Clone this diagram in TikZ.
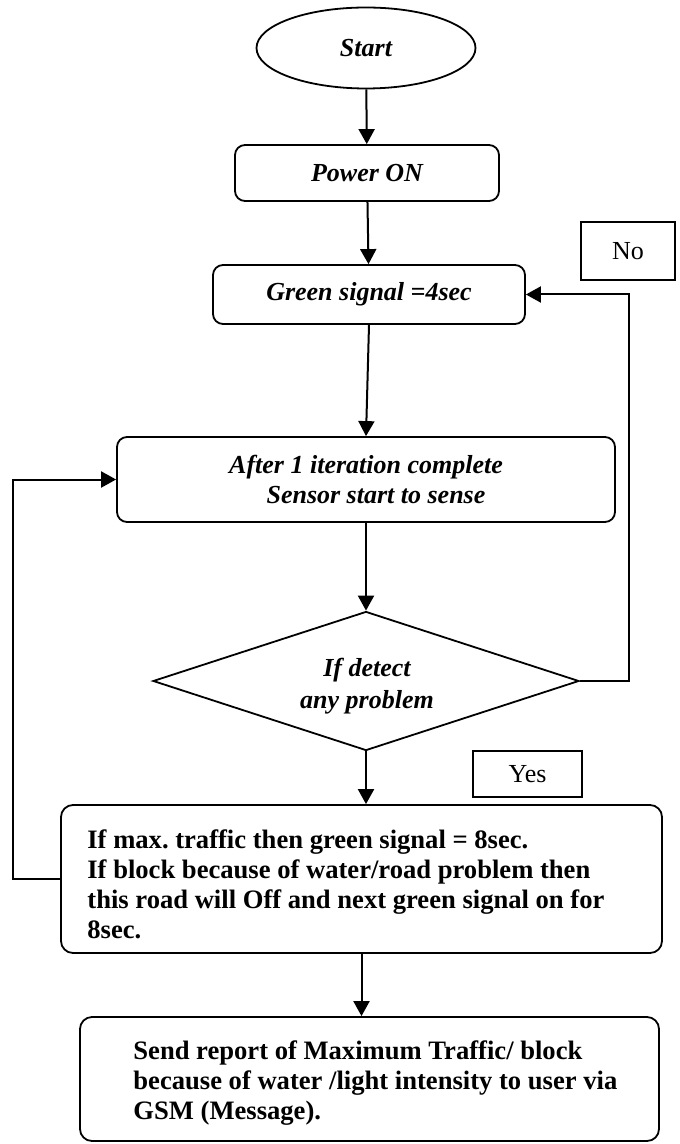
\documentclass[tikz,border=0pt]{standalone}
\usepackage{fontspec}
\setmainfont{Liberation Serif}
\usetikzlibrary{shapes.geometric,arrows.meta}
\frenchspacing
\begin{document}
\begin{tikzpicture}[x=0.5pt,y=-0.5pt,
  box/.style={draw,line width=0.9pt,rounded corners=5pt,inner sep=0pt,align=center,
    font=\fontsize{13}{15}\selectfont\bfseries\itshape},
  lbl/.style={draw,line width=0.9pt,inner sep=0pt,font=\fontsize{13}{15}\selectfont},
  txtbox/.style={draw,line width=0.9pt,rounded corners=6pt,inner sep=0pt,
    font=\fontsize{13.3}{15}\selectfont\bfseries},
  arr/.style={line width=1pt,-{Triangle[length=7.5pt,width=8pt]}},
  ln/.style={line width=1pt}]
\useasboundingbox (0,0) rectangle (679,1144);
\node[draw,line width=0.9pt,ellipse,minimum width=109.5pt,minimum height=40.5pt,inner sep=0pt,
  font=\fontsize{13}{15}\selectfont\bfseries\itshape] (start) at (366,48) {Start};
\node[box,minimum width=132pt,minimum height=28pt] (power) at (367,173) {Power ON};
\node[box,minimum width=156pt,minimum height=29.5pt] (green) at (369,294.5) {Green signal =4sec};
\node[lbl,minimum width=47pt,minimum height=29pt] (no) at (628,251) {No};
\node[box,minimum width=249pt,minimum height=42.5pt] (after) at (366,479.5)
  {After 1 iteration complete\\\hspace*{10pt}Sensor start to sense};
\node[draw,line width=0.9pt,diamond,shape aspect=3.06,minimum width=213pt,minimum height=69.5pt,inner sep=0pt,
  align=center,font=\fontsize{13}{16}\selectfont\bfseries\itshape] (dia) at (366,681) {};
\node[inner sep=0pt,align=center,font=\fontsize{13}{16}\selectfont\bfseries\itshape] (diatxt) at (367,686)
  {If detect\\any problem};
\node[lbl,minimum width=54.5pt,minimum height=23pt] (yes) at (527.5,774) {Yes};
\node[txtbox,minimum width=300.5pt,minimum height=74pt] (big) at (361.5,879) {};
\node[anchor=west,inner sep=0pt,align=left,font=\fontsize{13.3}{15}\selectfont\bfseries] (bigtxt) at (87,884)
  {If max. traffic then green signal = 8sec.\\If block because of water/road problem then\\this road will Off and next green signal on for\\8sec.};
\node[txtbox,minimum width=289.5pt,minimum height=62pt] (last) at (369.5,1079) {};
\node[anchor=west,inner sep=0pt,align=left,font=\fontsize{13.3}{15}\selectfont\bfseries] (lasttxt) at (133,1083)
  {Send report of Maximum Traffic/ block\\because of water /light intensity to user via\\GSM (Message).};
\coordinate (rx) at (629,400);
\coordinate (lx) at (13,700);
\draw[arr] (start) -- (power);
\draw[arr] (power) -- (green);
\draw[arr] (green.south) -- (after.north);
\draw[arr] (after.south) -- (dia.north);
\draw[arr] (dia.east) -| (rx) |- (green.east);
\draw[arr] (dia.south) -- (dia.south |- big.north);
\draw[arr] (big.west) -| (lx) |- (after.west);
\draw[arr] (big.south) -- (big.south |- last.north);
\end{tikzpicture}
\end{document}
